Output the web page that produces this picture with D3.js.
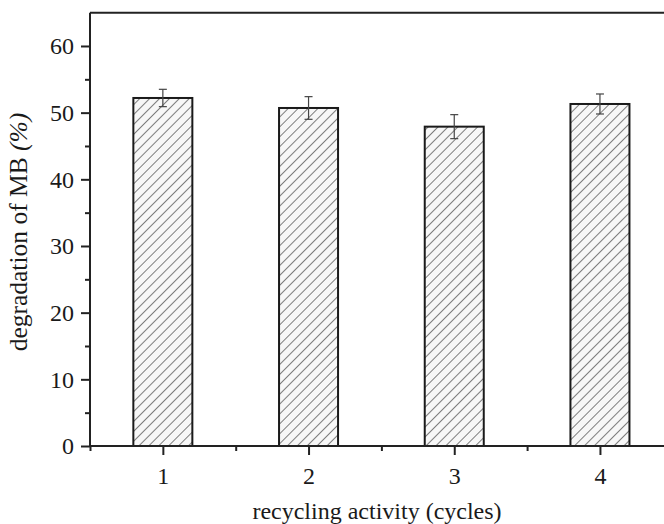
<!DOCTYPE html>
<html>
<head>
<meta charset="utf-8">
<script src="https://cdn.jsdelivr.net/npm/d3@7"></script>
<style>
  html, body { margin: 0; padding: 0; background: #fff; }
  svg { display: block; }
  text { font-family: "Liberation Serif", "Times New Roman", serif; fill: #1a1a1a; }
</style>
</head>
<body>
<svg id="chart" width="664" height="524"></svg>
<script>
// Photocatalyst reuse: MB degradation over successive cycles
const cycles = [1, 2, 3, 4];
const degradation = [52.2, 50.7, 47.9, 51.3];
const errors = [1.3, 1.7, 1.8, 1.5];
const yTicks = [0, 10, 20, 30, 40, 50, 60];
const yMinorTicks = [5, 15, 25, 35, 45, 55];
const xMinorTicks = [0.5, 1.5, 2.5, 3.5];

const svg = d3.select("#chart");
const plotLeft = 90, plotBottom = 446;
const unitX = 145.7;

const x = d3.scaleLinear().domain([0.5, 4.5]).range([plotLeft, plotLeft + 4 * unitX]);
const y = d3.scaleLinear().domain([0, 65]).range([plotBottom, plotBottom - 65 * 6.667]);
const barW = x(1.405) - x(1);

// diagonal hatch fill
const defs = svg.append("defs");
const pat = defs.append("pattern")
  .attr("id", "hatch")
  .attr("patternUnits", "userSpaceOnUse")
  .attr("width", 7).attr("height", 7)
  .attr("patternTransform", "rotate(45)");
pat.append("rect").attr("width", 7).attr("height", 7).attr("fill", "#f7f7f7");
pat.append("line")
  .attr("x1", 0).attr("y1", 0).attr("x2", 0).attr("y2", 7)
  .attr("stroke", "#2a2a2a").attr("stroke-width", 1.2);

// bars
svg.append("g").selectAll("rect")
  .data(cycles)
  .join("rect")
  .attr("x", (d) => x(d) - barW / 2)
  .attr("y", (d, i) => y(degradation[i]))
  .attr("width", barW)
  .attr("height", (d, i) => y(0) - y(degradation[i]))
  .attr("fill", "url(#hatch)")
  .attr("stroke", "#1a1a1a")
  .attr("stroke-width", 2);

// error bars
const eb = svg.append("g").attr("stroke", "#444").attr("stroke-width", 1.2);
cycles.forEach((c, i) => {
  const cx = x(c);
  const hi = y(degradation[i] + errors[i]);
  const lo = y(degradation[i] - errors[i]);
  eb.append("line").attr("x1", cx).attr("x2", cx).attr("y1", hi).attr("y2", lo);
  eb.append("line").attr("x1", cx - 4).attr("x2", cx + 4).attr("y1", hi).attr("y2", hi);
  eb.append("line").attr("x1", cx - 4).attr("x2", cx + 4).attr("y1", lo).attr("y2", lo);
});

// top frame line
svg.append("line")
  .attr("x1", plotLeft).attr("x2", x(4.5))
  .attr("y1", y(65)).attr("y2", y(65))
  .attr("stroke", "#222").attr("stroke-width", 2);

// y axis
const yAxis = svg.append("g").attr("transform", `translate(${plotLeft},0)`)
  .call(d3.axisLeft(y).tickValues(yTicks).tickSize(9).tickPadding(7).tickFormat(d3.format("d")));
yAxis.select(".domain").attr("stroke", "#222").attr("stroke-width", 2)
  .attr("d", `M0,${y(65)}V${y(0) + 1}`);
yAxis.selectAll(".tick line").attr("stroke", "#222").attr("stroke-width", 2);
yAxis.selectAll(".tick text").attr("font-size", 24);
svg.append("g").attr("transform", `translate(${plotLeft},0)`)
  .call(d3.axisLeft(y).tickValues(yMinorTicks).tickSize(5).tickFormat(""))
  .call((g) => g.select(".domain").remove())
  .selectAll(".tick line").attr("stroke", "#222").attr("stroke-width", 2);

// x axis
const xAxis = svg.append("g").attr("transform", `translate(0,${plotBottom})`)
  .call(d3.axisBottom(x).tickValues(cycles).tickSize(9).tickPadding(12).tickFormat(d3.format("d")));
xAxis.select(".domain").attr("stroke", "#222").attr("stroke-width", 2)
  .attr("d", `M${plotLeft - 1},0H${x(4.5)}`);
xAxis.selectAll(".tick line").attr("stroke", "#222").attr("stroke-width", 2);
xAxis.selectAll(".tick text").attr("font-size", 24);
svg.append("g").attr("transform", `translate(0,${plotBottom})`)
  .call(d3.axisBottom(x).tickValues(xMinorTicks).tickSize(5).tickFormat(""))
  .call((g) => g.select(".domain").remove())
  .selectAll(".tick line").attr("stroke", "#222").attr("stroke-width", 2);

// axis titles
svg.append("text")
  .attr("x", 377).attr("y", 519)
  .attr("text-anchor", "middle")
  .attr("font-size", 24)
  .text("recycling activity (cycles)");

const yt = svg.append("text")
  .attr("transform", "translate(27,232) rotate(-90)")
  .attr("text-anchor", "middle")
  .attr("font-size", 25.5);
yt.append("tspan").text("degradation of MB ");
yt.append("tspan").attr("font-style", "italic").text("(%)");
</script>
</body>
</html>
